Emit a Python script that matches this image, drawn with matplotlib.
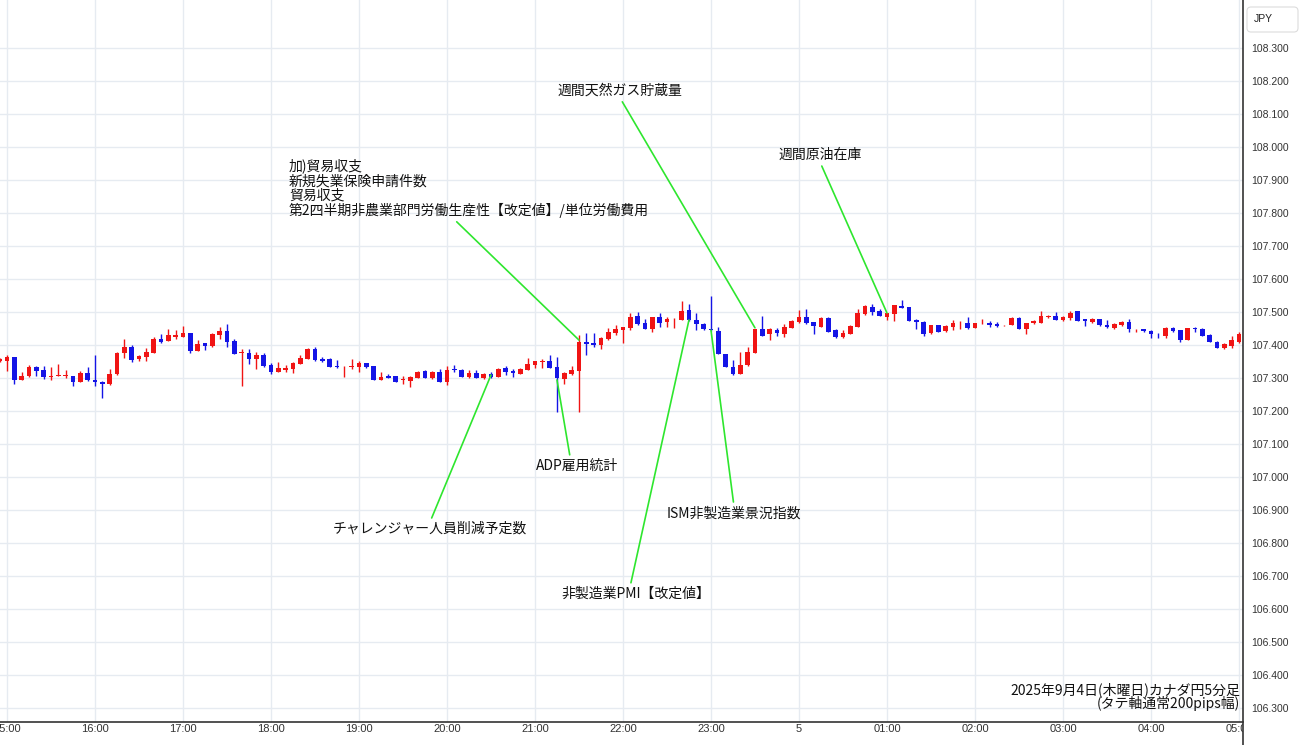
import numpy as np
import pandas as pd
import matplotlib
matplotlib.use('Agg')
import matplotlib.pyplot as plt
from matplotlib.patches import FancyBboxPatch
from matplotlib.lines import Line2D
from matplotlib.transforms import IdentityTransform, Bbox, TransformedBbox, blended_transform_factory

plt.rcParams['font.family'] = ['Noto Sans CJK JP', 'DejaVu Sans']

# CAD/JPY 5分足 2025-09-04 14:55 -> 09-05 05:00
opens = [
    107.352,
    107.353, 107.363, 107.293, 107.307, 107.332, 107.323, 107.303, 107.307, 107.305, 107.307, 107.289, 107.315,  # 15
    107.295, 107.288, 107.281, 107.311, 107.375, 107.393, 107.357, 107.363, 107.375, 107.417, 107.411, 107.425,  # 16
    107.425, 107.435, 107.381, 107.405, 107.397, 107.429, 107.441, 107.413, 107.375, 107.377, 107.357, 107.369,  # 17
    107.339, 107.319, 107.325, 107.327, 107.343, 107.359, 107.389, 107.357, 107.357, 107.335, 107.335, 107.333,  # 18
    107.333, 107.345, 107.335, 107.295, 107.305, 107.305, 107.293, 107.291, 107.299, 107.321, 107.299, 107.317,  # 19
    107.289, 107.327, 107.323, 107.303, 107.315, 107.301, 107.313, 107.303, 107.329, 107.321, 107.313, 107.325,  # 20
    107.339, 107.349, 107.351, 107.333, 107.297, 107.311, 107.320, 107.410, 107.405, 107.399, 107.419, 107.435,  # 21
    107.444, 107.452, 107.488, 107.466, 107.450, 107.486, 107.470, 107.478, 107.476, 107.506, 107.476, 107.464,  # 22
    107.450, 107.442, 107.374, 107.334, 107.312, 107.340, 107.376, 107.450, 107.434, 107.446, 107.434, 107.452,  # 23
    107.470, 107.484, 107.470, 107.456, 107.482, 107.444, 107.424, 107.434, 107.456, 107.494, 107.516, 107.504,  # 00
    107.486, 107.494, 107.518, 107.516, 107.476, 107.470, 107.436, 107.460, 107.442, 107.454, 107.466, 107.468,  # 01
    107.452, 107.466, 107.466, 107.464, 107.460, 107.460, 107.482, 107.448, 107.466, 107.468, 107.486, 107.488,  # 02
    107.476, 107.482, 107.502, 107.478, 107.470, 107.480, 107.462, 107.452, 107.460, 107.470, 107.448, 107.450,  # 03
    107.442, 107.434, 107.426, 107.452, 107.444, 107.414, 107.452, 107.450, 107.430, 107.410, 107.390, 107.398,  # 04
    107.410,
]
highs = [
    107.360,
    107.370, 107.365, 107.317, 107.339, 107.335, 107.337, 107.333, 107.341, 107.325, 107.307, 107.321, 107.333,
    107.371, 107.290, 107.327, 107.379, 107.419, 107.401, 107.371, 107.391, 107.425, 107.433, 107.449, 107.447,
    107.457, 107.437, 107.415, 107.405, 107.435, 107.455, 107.465, 107.417, 107.387, 107.389, 107.379, 107.375,
    107.347, 107.349, 107.339, 107.349, 107.369, 107.391, 107.393, 107.365, 107.361, 107.355, 107.337, 107.359,
    107.353, 107.347, 107.337, 107.319, 107.313, 107.307, 107.307, 107.307, 107.321, 107.323, 107.321, 107.327,
    107.337, 107.339, 107.327, 107.325, 107.323, 107.315, 107.319, 107.329, 107.335, 107.327, 107.329, 107.361,
    107.351, 107.357, 107.371, 107.365, 107.319, 107.335, 107.430, 107.437, 107.435, 107.425, 107.453, 107.461,
    107.456, 107.498, 107.500, 107.480, 107.486, 107.496, 107.484, 107.482, 107.534, 107.524, 107.496, 107.468,
    107.550, 107.454, 107.374, 107.354, 107.380, 107.394, 107.450, 107.488, 107.452, 107.452, 107.464, 107.476,
    107.506, 107.508, 107.470, 107.484, 107.484, 107.448, 107.446, 107.462, 107.508, 107.520, 107.524, 107.508,
    107.496, 107.522, 107.536, 107.516, 107.480, 107.472, 107.462, 107.462, 107.462, 107.476, 107.474, 107.484,
    107.468, 107.478, 107.472, 107.470, 107.462, 107.484, 107.484, 107.468, 107.476, 107.502, 107.490, 107.500,
    107.488, 107.504, 107.504, 107.478, 107.482, 107.480, 107.476, 107.468, 107.474, 107.480, 107.450, 107.450,
    107.444, 107.436, 107.454, 107.456, 107.446, 107.452, 107.456, 107.452, 107.434, 107.412, 107.406, 107.426,
    107.440,
]
lows = [
    107.350,
    107.320, 107.283, 107.293, 107.303, 107.307, 107.297, 107.293, 107.305, 107.301, 107.277, 107.287, 107.291,
    107.277, 107.239, 107.279, 107.309, 107.361, 107.349, 107.351, 107.351, 107.375, 107.407, 107.411, 107.419,
    107.425, 107.377, 107.381, 107.385, 107.395, 107.419, 107.393, 107.373, 107.277, 107.343, 107.327, 107.333,
    107.313, 107.319, 107.319, 107.315, 107.343, 107.359, 107.353, 107.349, 107.333, 107.329, 107.303, 107.327,
    107.317, 107.331, 107.295, 107.293, 107.299, 107.289, 107.283, 107.273, 107.299, 107.299, 107.297, 107.289,
    107.279, 107.317, 107.303, 107.299, 107.299, 107.297, 107.301, 107.303, 107.309, 107.303, 107.313, 107.325,
    107.331, 107.331, 107.331, 107.198, 107.283, 107.309, 107.198, 107.370, 107.395, 107.387, 107.415, 107.431,
    107.405, 107.446, 107.460, 107.448, 107.438, 107.456, 107.456, 107.452, 107.476, 107.474, 107.446, 107.446,
    107.442, 107.372, 107.332, 107.310, 107.312, 107.336, 107.376, 107.428, 107.414, 107.428, 107.424, 107.452,
    107.468, 107.464, 107.434, 107.454, 107.438, 107.422, 107.422, 107.434, 107.456, 107.492, 107.492, 107.488,
    107.476, 107.474, 107.512, 107.474, 107.450, 107.428, 107.434, 107.438, 107.438, 107.444, 107.448, 107.450,
    107.452, 107.464, 107.456, 107.456, 107.458, 107.460, 107.448, 107.434, 107.464, 107.468, 107.482, 107.476,
    107.472, 107.476, 107.474, 107.458, 107.468, 107.458, 107.452, 107.450, 107.458, 107.440, 107.438, 107.438,
    107.422, 107.420, 107.422, 107.440, 107.410, 107.414, 107.440, 107.428, 107.408, 107.390, 107.388, 107.390,
    107.406,
]
closes = [
    107.357,
    107.365, 107.293, 107.307, 107.333, 107.322, 107.303, 107.307, 107.309, 107.309, 107.289, 107.315, 107.293,
    107.287, 107.282, 107.311, 107.377, 107.393, 107.355, 107.367, 107.379, 107.419, 107.409, 107.429, 107.429,
    107.435, 107.381, 107.403, 107.397, 107.433, 107.441, 107.409, 107.373, 107.379, 107.357, 107.369, 107.337,
    107.319, 107.329, 107.331, 107.345, 107.361, 107.389, 107.355, 107.353, 107.333, 107.333, 107.337, 107.337,
    107.345, 107.333, 107.295, 107.303, 107.301, 107.289, 107.297, 107.303, 107.319, 107.301, 107.317, 107.289,
    107.325, 107.323, 107.303, 107.315, 107.301, 107.313, 107.303, 107.327, 107.317, 107.315, 107.327, 107.341,
    107.351, 107.353, 107.331, 107.299, 107.315, 107.323, 107.410, 107.403, 107.401, 107.421, 107.439, 107.449,
    107.456, 107.486, 107.464, 107.450, 107.486, 107.468, 107.478, 107.480, 107.504, 107.476, 107.464, 107.448,
    107.444, 107.372, 107.334, 107.312, 107.340, 107.380, 107.450, 107.428, 107.448, 107.436, 107.454, 107.474,
    107.484, 107.468, 107.458, 107.482, 107.440, 107.424, 107.436, 107.458, 107.496, 107.518, 107.500, 107.488,
    107.496, 107.520, 107.512, 107.474, 107.470, 107.434, 107.460, 107.440, 107.458, 107.466, 107.468, 107.452,
    107.468, 107.468, 107.462, 107.458, 107.462, 107.482, 107.448, 107.468, 107.472, 107.488, 107.488, 107.476,
    107.486, 107.498, 107.474, 107.472, 107.480, 107.460, 107.454, 107.464, 107.470, 107.448, 107.450, 107.442,
    107.432, 107.432, 107.452, 107.442, 107.414, 107.452, 107.450, 107.428, 107.408, 107.390, 107.402, 107.414,
    107.432,
]

hour_labels = ['15:00', '16:00', '17:00', '18:00', '19:00', '20:00', '21:00', '22:00',
               '23:00', '5', '01:00', '02:00', '03:00', '04:00', '05:00']
price_ticks = np.round(np.arange(106.3, 108.31, 0.1), 1)

# (label, candle time, price the line points at, text offset px, ha, va, line start in text box)
events = [
    ('加)貿易収支\n新規失業保険申請件数\n貿易収支\n第2四半期非農業部門労働生産性【改定値】/単位労働費用',
     '21:30', 107.415, (-290, 122), 'left', 'bottom', (0.455, 0)),
    ('週間天然ガス貯蔵量', '23:30', 107.452, (-135, 237), 'center', 'center', (0.5, 0)),
    ('週間原油在庫', '01:00', 107.497, (-67, 158), 'center', 'center', (0.5, 0)),
    ('チャレンジャー人員削減予定数', '20:30', 107.309, (-61, -154), 'center', 'center', (0.5, 1)),
    ('ADP雇用統計', '21:15', 107.294, (20, -86), 'center', 'center', (0.42, 1)),
    ('非製造業PMI【改定値】', '22:45', 107.476, (-53, -274), 'center', 'center', (0.46, 1)),
    ('ISM非製造業景況指数', '23:00', 107.445, (23, -183), 'center', 'center', (0.5, 1)),
]

times = pd.date_range('2025-09-04 14:55', periods=len(opens), freq='5min')
x = np.arange(len(opens)) - 1
x_of = dict(zip(times.strftime('%H:%M'), x))
hour_x = x[times.minute == 0]

o = np.array(opens)
c = np.array(closes)
up = c >= o
colors = np.where(up, '#f01414', '#1414e6')

fig = plt.figure(figsize=(13, 7.45), dpi=100)
W, H = 1300, 745
ax = fig.add_axes([0, 23 / H, 1243 / W, 722 / H])

ax.vlines(x, lows, highs, colors=colors, lw=1, zorder=2)
ax.bar(x, np.maximum(np.abs(c - o), 0.002), bottom=np.minimum(o, c), width=0.62,
       color=colors, zorder=3)

ax.set_xlim(-0.955, 168.55)
ax.set_ylim(106.2576, 108.4455)
ax.set_xticks(hour_x)
ax.set_yticks(price_ticks)
ax.set_yticklabels([f'{p:.3f}' for p in price_ticks], family='Liberation Sans')
ax.grid(color='#e6ebf1', lw=1)
ax.set_axisbelow(True)
ax.tick_params(axis='x', length=0, labelbottom=False)
ax.yaxis.tick_right()
ax.tick_params(axis='y', length=0, pad=6, labelsize=7.5, labelcolor='#333333')
for s in ['top', 'left', 'right']:
    ax.spines[s].set_visible(False)
ax.spines['bottom'].set_color('#333333')
ax.spines['bottom'].set_linewidth(1.2)

# price scale border
fig.add_artist(Line2D([1242.5, 1242.5], [0, H], transform=IdentityTransform(),
                      color='#333333', lw=1.2))

# time labels, cut off at the price scale
clip = TransformedBbox(Bbox.from_extents(0, 0, 1243 / W, 1), fig.transFigure)
tr = blended_transform_factory(ax.transData, fig.transFigure)
for hx, lab in zip(hour_x, hour_labels):
    t = fig.text(hx, (H - 729) / H, lab, transform=tr, ha='center', va='center',
                 fontsize=8, color='#333333', family='Liberation Sans')
    t.set_clip_box(clip)
    t.set_clip_on(True)

# JPY box
fig.add_artist(FancyBboxPatch((1247, H - 32), 51, 25, boxstyle='round,pad=0,rounding_size=4',
                              transform=IdentityTransform(), fc='white', ec='#dcdcdc', lw=0.8))
fig.text(1263 / W, 1 - 18.5 / H, 'JPY', ha='center', va='center', fontsize=7.5,
         color='#222222', family='Liberation Sans')

for label, t, price, off, ha, va, rel in events:
    ax.annotate(label, xy=(x_of[t], price), xytext=off, textcoords='offset pixels',
                ha=ha, va=va, fontsize=10, color='#111111', linespacing=1.04,
                annotation_clip=False, zorder=5,
                arrowprops=dict(arrowstyle='-', color='#2ee62e', lw=1.2, relpos=rel,
                                shrinkA=1, shrinkB=0))

ax.text(1240 / 1243, 11 / 722, '2025年9月4日(木曜日)カナダ円5分足\n(タテ軸通常200pips幅)',
        transform=ax.transAxes, ha='right', va='bottom', fontsize=10, color='#111111',
        linespacing=0.9)

fig.savefig('out.png', dpi=100)
